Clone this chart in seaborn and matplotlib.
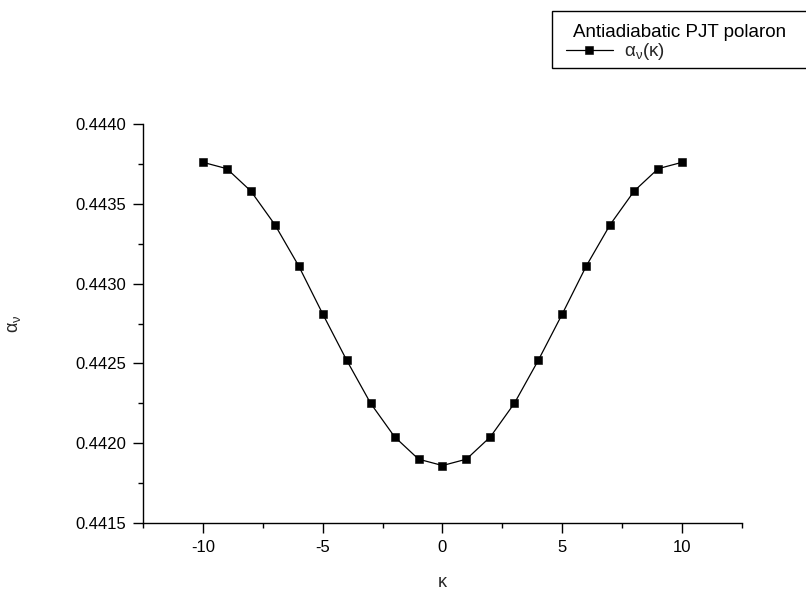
import numpy as np
import pandas as pd
import matplotlib
matplotlib.use("Agg")
import matplotlib.pyplot as plt
from matplotlib.ticker import MultipleLocator, FuncFormatter
from matplotlib.lines import Line2D
from matplotlib.patches import Rectangle
import seaborn as sns

kappa = [-10, -9, -8, -7, -6, -5, -4, -3, -2, -1, 0, 1, 2, 3, 4, 5, 6, 7, 8, 9, 10]
alpha_nu = [0.44376, 0.44372, 0.44358, 0.44337, 0.44311, 0.44281, 0.44252, 0.44225,
            0.44204, 0.44190, 0.44186, 0.44190, 0.44204, 0.44225, 0.44252, 0.44281,
            0.44311, 0.44337, 0.44358, 0.44372, 0.44376]
legend_title = "Antiadiabatic PJT polaron"
series_label = r"$\mathregular{\alpha_{\nu}(\kappa)}$"

sns.set_style("ticks")
plt.rcParams["font.family"] = ["Liberation Sans", "DejaVu Sans"]
plt.rcParams["mathtext.fontset"] = "custom"
plt.rcParams["mathtext.rm"] = "Liberation Serif"
plt.rcParams["mathtext.it"] = "Liberation Serif:italic"
plt.rcParams["axes.unicode_minus"] = False

df = pd.DataFrame({"kappa": kappa, "alpha": alpha_nu})

W, H = 806, 599
fig = plt.figure(figsize=(W / 100, H / 100), dpi=100)
ax = fig.add_axes([143 / W, 1 - 523 / H, 599 / W, 399 / H])
sns.lineplot(data=df, x="kappa", y="alpha", ax=ax, color="black", linewidth=0.9,
             marker="s", markersize=6.3, markeredgecolor="black", markeredgewidth=0.4,
             markerfacecolor="black")

ax.set_xlim(-12.5, 12.5)
ax.set_ylim(0.4415, 0.4440)
ax.xaxis.set_major_locator(MultipleLocator(5))
ax.xaxis.set_minor_locator(MultipleLocator(2.5))
ax.yaxis.set_major_locator(MultipleLocator(0.0005))
ax.yaxis.set_minor_locator(MultipleLocator(0.00025))
ax.yaxis.set_major_formatter(matplotlib.ticker.FormatStrFormatter("%.4f"))
ax.xaxis.set_major_formatter(FuncFormatter(lambda v, p: f"{v:.0f}".replace("\u2212", "-")))
for s in ["top", "right"]:
    ax.spines[s].set_visible(False)
for s in ["left", "bottom"]:
    ax.spines[s].set_linewidth(1.0)
    ax.spines[s].set_color("black")
ax.tick_params(which="major", direction="out", length=7, width=1, labelsize=12, colors="black", pad=5)
ax.tick_params(which="minor", direction="out", length=3.5, width=1, colors="black")

ax.set_xlabel(r"$\mathregular{\kappa}$", fontsize=13, labelpad=14)
ax.set_ylabel(r"$\mathregular{\alpha_{\nu}}$", fontsize=13, labelpad=38)

# legend frame, title and entry
fig.patches.append(Rectangle((552 / W, 1 - 68 / H), 260 / W, 57 / H, transform=fig.transFigure,
                             facecolor="white", edgecolor="black", linewidth=1.0, zorder=5))
fig.text(573 / W, 1 - 37 / H, legend_title, fontsize=13.5, ha="left", va="baseline",
         color="black", zorder=6)
handle = Line2D([], [], color="black", linewidth=0.9, marker="s", markersize=6.3,
                markeredgewidth=0.4)
leg = fig.legend([handle], [series_label], loc="center left",
                 bbox_to_anchor=(566 / W, 1 - 52 / H), frameon=False, fontsize=13.5,
                 borderpad=0.0, borderaxespad=0.0, handlelength=2.5, handletextpad=0.6)
leg.set_zorder(7)

fig.savefig("out.png", dpi=100)
